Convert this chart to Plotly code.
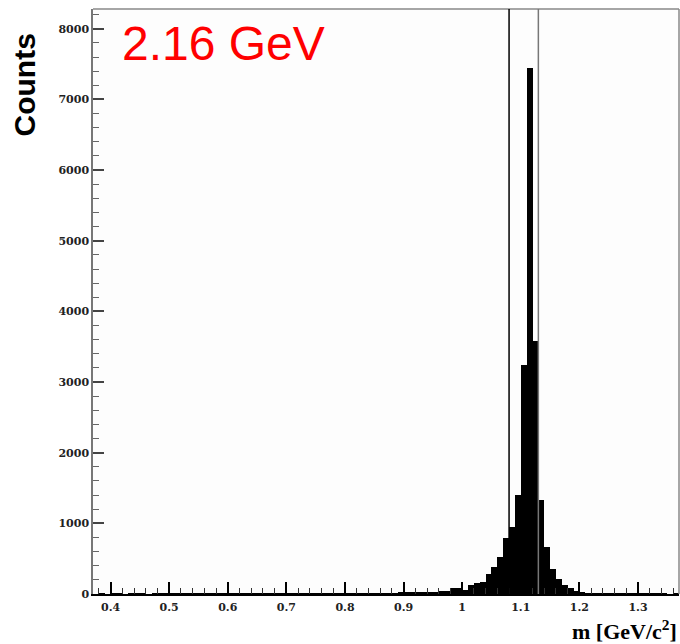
import numpy as np
import plotly.graph_objects as go

# Invariant-mass histogram: 100 bins of 0.01 GeV/c^2 starting at 0.37
bin_start = 0.37
bin_width = 0.01
counts = [
    # 0.37 - 0.49
    0, 1, 0, 1, 1, 0, 2, 1, 1, 0, 2, 1, 1,
    # 0.50 - 0.59
    1, 2, 1, 2, 1, 2, 2, 1, 3, 2,
    # 0.60 - 0.69
    2, 3, 2, 3, 3, 2, 4, 3, 3, 4,
    # 0.70 - 0.79
    4, 3, 5, 4, 5, 5, 6, 5, 6, 7,
    # 0.80 - 0.89
    7, 8, 8, 9, 10, 11, 12, 12, 14, 15,
    # 0.90 - 0.99
    16, 18, 20, 22, 24, 26, 45, 48, 85, 82,
    # 1.00 - 1.09
    62, 128, 150, 172, 284, 388, 521, 790, 950, 1400,
    # 1.10 - 1.19
    3245, 7440, 3575, 1330, 660, 360, 209, 128, 81, 43,
    # 1.20 - 1.29
    22, 12, 8, 6, 5, 4, 3, 3, 2, 2,
    # 1.30 - 1.36
    2, 1, 1, 1, 1, 0, 1,
]
bin_centers = np.round(bin_start + bin_width * (np.arange(len(counts)) + 0.5), 4)

# Mass window cuts
cut_low = 1.08
cut_high = 1.13

beam_label = "2.16 GeV"
x_title = "m [GeV/c<sup>2</sup>]"
y_title = "Counts"

x_range = [0.37, 1.37]
y_range = [0, 8280]

tick_font = dict(family="DejaVu Serif", size=11, color="#222222", weight="bold")

fig = go.Figure()
fig.add_trace(go.Bar(
    x=bin_centers,
    y=counts,
    width=bin_width,
    marker=dict(color="black", line=dict(width=0)),
    hoverinfo="x+y",
))

fig.update_layout(
    width=680,
    height=644,
    margin=dict(l=93, r=1, t=9, b=50),
    paper_bgcolor="white",
    plot_bgcolor="#fdfdfd",
    showlegend=False,
    bargap=0,
    xaxis=dict(
        range=x_range,
        dtick=0.1,
        tick0=0.4,
        ticks="inside",
        ticklen=12,
        tickwidth=1.5,
        tickcolor="black",
        minor=dict(dtick=0.02, ticks="inside", ticklen=6, tickcolor="#333333", tickwidth=1),
        showgrid=False,
        zeroline=False,
        showline=True,
        linecolor="black",
        linewidth=2,
        tickfont=tick_font,
        ticklabelstandoff=2,
    ),
    yaxis=dict(
        range=y_range,
        dtick=1000,
        ticks="inside",
        ticklen=11,
        tickwidth=1.5,
        tickcolor="#444444",
        minor=dict(dtick=200, ticks="inside", ticklen=6, tickcolor="#666666", tickwidth=1),
        showgrid=False,
        zeroline=False,
        showline=True,
        linecolor="#777777",
        linewidth=1.5,
        tickfont=tick_font,
    ),
)

# Frame on the top and right sides
fig.add_shape(type="line", xref="paper", yref="paper", x0=0, x1=1, y0=1, y1=1,
              line=dict(color="#888888", width=1.5))
fig.add_shape(type="line", xref="paper", yref="paper", x0=1, x1=1, y0=0, y1=1,
              line=dict(color="#888888", width=1.5))

# Mass window lines
fig.add_shape(type="line", xref="x", yref="paper", x0=cut_low, x1=cut_low, y0=0, y1=1,
              line=dict(color="black", width=1.5))
fig.add_shape(type="line", xref="x", yref="paper", x0=cut_high, x1=cut_high, y0=0, y1=1,
              line=dict(color="#777777", width=1.5))

fig.add_annotation(
    text=beam_label, xref="paper", yref="paper",
    x=0.046, y=0.9405, xanchor="left", yanchor="middle",
    showarrow=False,
    font=dict(family="Liberation Sans", size=48, color="#ff0000"),
)

fig.add_annotation(
    text=y_title, xref="paper", yref="paper",
    x=-0.117, y=0.87, xanchor="center", yanchor="middle",
    textangle=-90, showarrow=False,
    font=dict(family="Liberation Sans", size=30, color="black", weight="bold"),
)

fig.add_annotation(
    text=x_title, xref="paper", yref="paper",
    x=1.0, y=-0.062, xanchor="right", yanchor="middle",
    showarrow=False,
    font=dict(family="Liberation Serif", size=22, color="black", weight="bold"),
)

fig.write_html("out.html")
